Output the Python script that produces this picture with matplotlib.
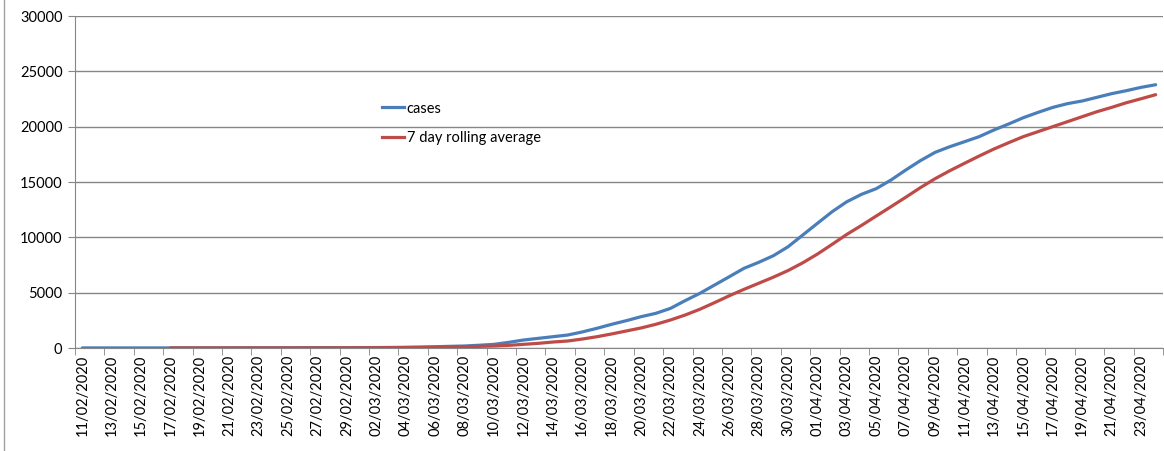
import numpy as np
import pandas as pd
import matplotlib
matplotlib.use("Agg")
import matplotlib.pyplot as plt
from matplotlib.lines import Line2D

# 日付カテゴリ
dates = pd.date_range("2020-02-11", "2020-04-24", freq="D")
date_labels = [d.strftime("%d/%m/%Y") for d in dates]

# 累計
cases = [8, 8, 9, 9, 9, 9, 9, 9, 9, 9,
         9, 13, 13, 13, 15, 19, 23, 23, 23, 36,
         40, 51, 65, 85, 115, 150, 180, 250, 330, 510,
         720, 870, 1020, 1170, 1450, 1780, 2140, 2470, 2830, 3130,
         3580, 4280, 4940, 5690, 6440, 7200, 7740, 8340, 9150, 10210,
         11270, 12320, 13220, 13890, 14400, 15180, 16080, 16930, 17680, 18190,
         18640, 19100, 19700, 20240, 20810, 21290, 21740, 22080, 22320, 22650,
         22980, 23250, 23550, 23790]

# 7日移動平均 (17/02 から)
rolling = [None] * 6 + [
    8, 8, 9, 9, 9, 9, 10, 11, 11, 12,
    14, 16, 18, 20, 24, 30, 38, 50, 68, 90,
    120, 150, 180, 240, 330, 420, 540, 630, 810, 1020,
    1270, 1540, 1810, 2140, 2530, 2980, 3500, 4100, 4720, 5300,
    5850, 6400, 7000, 7700, 8490, 9370, 10270, 11080, 11930, 12770,
    13620, 14490, 15300, 16020, 16690, 17350, 17980, 18550, 19100, 19550,
    20000, 20450, 20900, 21350, 21740, 22160, 22520, 22890]

plt.rcParams["font.family"] = ["Lato", "DejaVu Sans"]

fig = plt.figure(figsize=(11.64, 4.51), dpi=100)
ax = fig.add_axes([75 / 1164, 103 / 451, 1088 / 1164, 332 / 451])

x = np.arange(len(dates))
roll = np.array([np.nan if v is None else v for v in rolling], dtype=float)

blue = "#4A7EBB"
red = "#BE4B48"
ax.plot(x, cases, color=blue, lw=2.3, solid_capstyle="round", zorder=3)
ax.plot(x, roll, color=red, lw=2.3, solid_capstyle="round", zorder=4)

ax.set_xlim(-0.5, len(dates) - 0.5)
ax.set_ylim(0, 30000)
ax.set_yticks(np.arange(0, 30001, 5000))
ax.grid(axis="y", color="#868686", lw=1)
ax.set_axisbelow(True)

ax.set_xticks(x[::2])
ax.set_xticklabels(date_labels[::2], rotation=90)
ax.set_xticks(np.arange(-0.5, len(dates), 2), minor=True)
ax.tick_params(axis="x", which="major", length=0, labelsize=10.5, pad=5)
ax.tick_params(axis="x", which="minor", length=5, color="#868686")
ax.tick_params(axis="y", length=5, color="#868686", labelsize=10.5, pad=4)

for s in ["top", "right"]:
    ax.spines[s].set_visible(False)
ax.spines["left"].set_color("#868686")
ax.spines["bottom"].set_color("#868686")

handles = [Line2D([], [], color=blue, lw=2.3), Line2D([], [], color=red, lw=2.3)]
ax.legend(handles, ["cases", "7 day rolling average"], loc="upper left",
          bbox_to_anchor=(0.27, 0.782), frameon=False, fontsize=10.5,
          handlelength=1.5, handletextpad=0.2, labelspacing=1.05)

# 枠線 (左)
fig.add_artist(Line2D([4 / 1164, 4 / 1164], [0, 1], color="#A0A0A0", lw=1))

fig.savefig("out.png", dpi=100)
